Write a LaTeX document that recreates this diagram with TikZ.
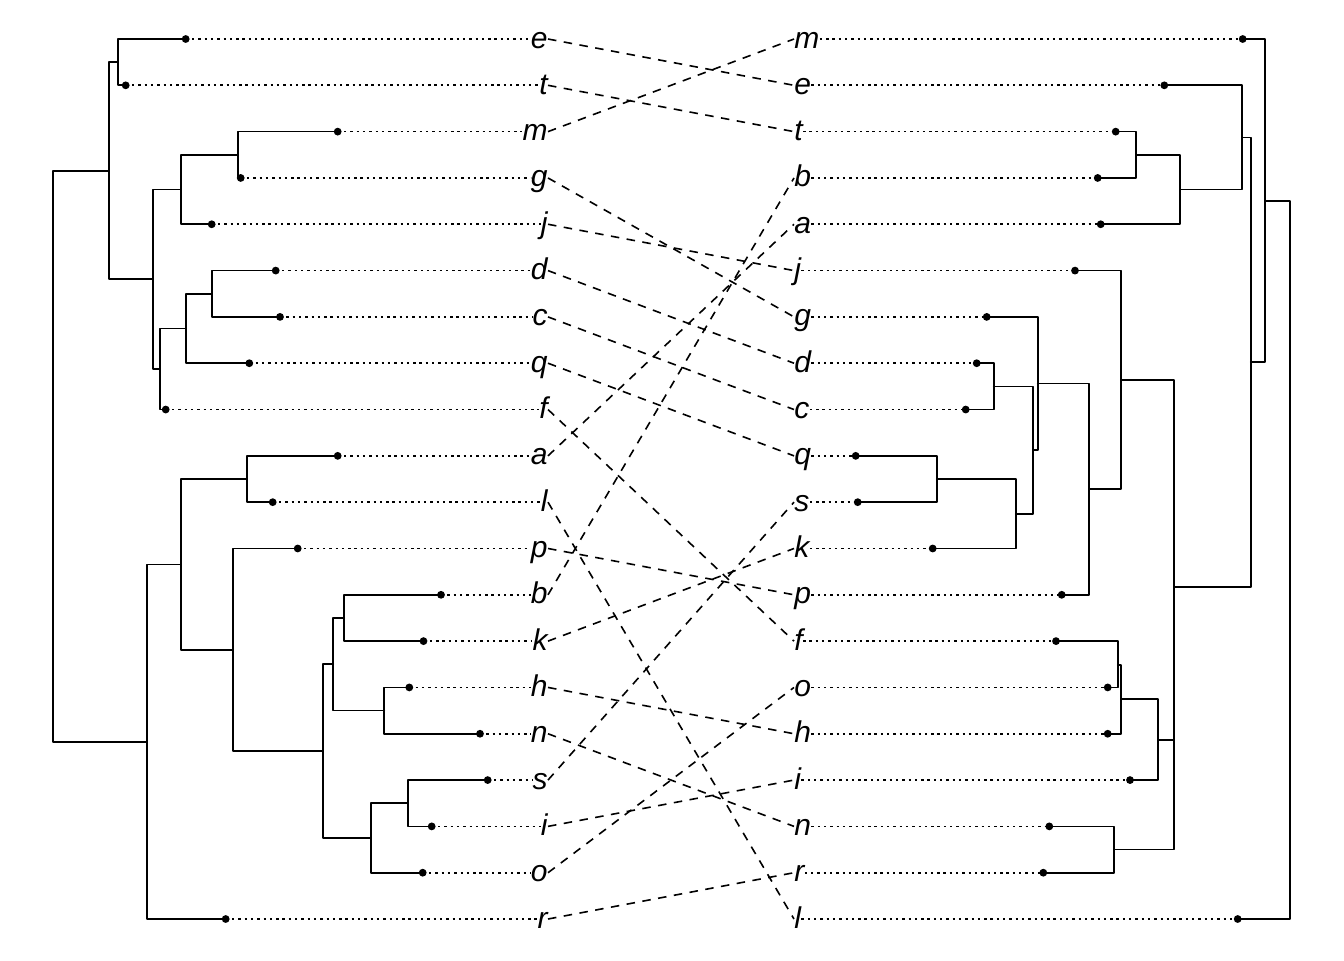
\documentclass[tikz,border=0pt]{standalone}
\usepackage{fontspec}
\setmainfont{Liberation Sans}
\begin{document}
\begin{tikzpicture}[x=0.5pt,y=-0.5pt,
  branch/.style={line width=0.85pt, line cap=round, line join=round},
  leafdot/.style={circle, fill=black, inner sep=0pt, minimum size=3.9pt},
  guide/.style={line width=0.85pt, dash pattern=on 1.2pt off 1.95pt},
  link/.style={line width=0.8pt, dash pattern=on 4.25pt off 3.75pt},
  lab/.style={font=\fontsize{15}{18}\selectfont\itshape, inner sep=0pt}]
\useasboundingbox (0,0) rectangle (1344,960);

% ---- left dendrogram: leaves, guide lines and labels ----
\foreach \n/\x/\r in {e/185.7/0, t/125.7/1, m/337.7/2, g/240.7/3, j/211.7/4,
  d/275.7/5, c/280/6, q/249.3/7, f/165.7/8, a/337.7/9, l/272.7/10,
  p/297.7/11, b/441/12, k/423.5/13, h/409.3/14, n/480/15, s/487.7/16,
  i/431.7/17, o/422.7/18, r/225.7/19}{
  \node[lab, anchor=base east] (Lt-\n) at (548, {48+46.316*\r}) {\n};
  \draw[guide] (\x, {39+46.316*\r}) -- ([yshift=4.5pt]Lt-\n.base west);
  \node[leafdot] (Ld-\n) at (\x, {39+46.316*\r}) {};
}

% ---- right dendrogram: leaves, guide lines and labels ----
\foreach \n/\x/\r in {m/1242.7/0, e/1164.3/1, t/1115.7/2, b/1097.7/3, a/1100.7/4,
  j/1075/5, g/986.7/6, d/976.7/7, c/965.7/8, q/855.7/9, s/857.7/10,
  k/932.7/11, p/1061.7/12, f/1056/13, o/1107.7/14, h/1107.7/15,
  i/1130/16, n/1049.3/17, r/1043.3/18, l/1237.7/19}{
  \node[lab, anchor=base west] (Rt-\n) at (794, {48+46.316*\r}) {\n};
  \draw[guide] ([yshift=4.5pt]Rt-\n.base east) -- (\x, {39+46.316*\r});
  \node[leafdot] (Rd-\n) at (\x, {39+46.316*\r}) {};
}

% ---- left internal nodes ----
\coordinate (L-et)   at (117.7, 62.2);
\coordinate (L-mg)   at (238,   154.8);
\coordinate (L-mgj)  at (180.7, 189.5);
\coordinate (L-dc)   at (211.7, 293.8);
\coordinate (L-dcq)  at (185.7, 328.5);
\coordinate (L-dcqf) at (160,   369);
\coordinate (L-up)   at (152.7, 279.3);
\coordinate (L-top)  at (109,   170.7);
\coordinate (L-al)   at (246.7, 479);
\coordinate (L-bk)   at (344.3, 618);
\coordinate (L-hn)   at (384.3, 710.6);
\coordinate (L-bkhn) at (333.3, 664.3);
\coordinate (L-si)   at (407.7, 803.2);
\coordinate (L-sio)  at (370.7, 838);
\coordinate (L-low)  at (322.7, 751.1);
\coordinate (L-plow) at (232.7, 649.8);
\coordinate (L-alp)  at (180.7, 564.4);
\coordinate (L-bot)  at (146.7, 741.7);
\coordinate (L-root) at (52.7,  456.2);

\draw[branch] (Ld-e.center) -| (L-et) |- (Ld-t.center);
\draw[branch] (Ld-m.center) -| (L-mg) |- (Ld-g.center);
\draw[branch] (L-mg) -| (L-mgj) |- (Ld-j.center);
\draw[branch] (Ld-d.center) -| (L-dc) |- (Ld-c.center);
\draw[branch] (L-dc) -| (L-dcq) |- (Ld-q.center);
\draw[branch] (L-dcq) -| (L-dcqf) |- (Ld-f.center);
\draw[branch] (L-mgj) -| (L-up) |- (L-dcqf);
\draw[branch] (L-et) -| (L-top) |- (L-up);
\draw[branch] (Ld-a.center) -| (L-al) |- (Ld-l.center);
\draw[branch] (Ld-b.center) -| (L-bk) |- (Ld-k.center);
\draw[branch] (Ld-h.center) -| (L-hn) |- (Ld-n.center);
\draw[branch] (L-bk) -| (L-bkhn) |- (L-hn);
\draw[branch] (Ld-s.center) -| (L-si) |- (Ld-i.center);
\draw[branch] (L-si) -| (L-sio) |- (Ld-o.center);
\draw[branch] (L-bkhn) -| (L-low) |- (L-sio);
\draw[branch] (Ld-p.center) -| (L-plow) |- (L-low);
\draw[branch] (L-al) -| (L-alp) |- (L-plow);
\draw[branch] (L-alp) -| (L-bot) |- (Ld-r.center);
\draw[branch] (L-top) -| (L-root) |- (L-bot);

% ---- right internal nodes ----
\coordinate (R-tb)     at (1136,   154.8);
\coordinate (R-tba)    at (1180,   189.5);
\coordinate (R-etba)   at (1242,   137.4);
\coordinate (R-dc)     at (993.7,  386.4);
\coordinate (R-qs)     at (936.7,  479);
\coordinate (R-qsk)    at (1015.7, 513.8);
\coordinate (R-dcqsk)  at (1033.3, 450.1);
\coordinate (R-gdc)    at (1037.7, 383.5);
\coordinate (R-gp)     at (1089.3, 489.2);
\coordinate (R-jgp)    at (1121,   379.9);
\coordinate (R-fo)     at (1117.7, 664.9);
\coordinate (R-foh)    at (1121,   699.3);
\coordinate (R-fohi)   at (1158.3, 739.7);
\coordinate (R-nr)     at (1114,   849.6);
\coordinate (R-low)    at (1174,   794.6);
\coordinate (R-jlow)   at (1174,   587.3);
\coordinate (R-mid)    at (1250.7, 362.3);
\coordinate (R-top)    at (1265,   200.7);
\coordinate (R-root)   at (1290,   559.9);

\draw[branch] (Rd-t.center) -| (R-tb) |- (Rd-b.center);
\draw[branch] (R-tb) -| (R-tba) |- (Rd-a.center);
\draw[branch] (Rd-e.center) -| (R-etba) |- (R-tba);
\draw[branch] (Rd-d.center) -| (R-dc) |- (Rd-c.center);
\draw[branch] (Rd-q.center) -| (R-qs) |- (Rd-s.center);
\draw[branch] (R-qs) -| (R-qsk) |- (Rd-k.center);
\draw[branch] (R-dc) -| (R-dcqsk) |- (R-qsk);
\draw[branch] (Rd-g.center) -| (R-gdc) |- (R-dcqsk);
\draw[branch] (R-gdc) -| (R-gp) |- (Rd-p.center);
\draw[branch] (Rd-j.center) -| (R-jgp) |- (R-gp);
\draw[branch] (Rd-f.center) -| (R-fo) |- (Rd-o.center);
\draw[branch] (R-fo) -| (R-foh) |- (Rd-h.center);
\draw[branch] (R-foh) -| (R-fohi) |- (Rd-i.center);
\draw[branch] (Rd-n.center) -| (R-nr) |- (Rd-r.center);
\draw[branch] (R-fohi) -| (R-low) |- (R-nr);
\draw[branch] (R-jgp) -| (R-jlow) |- (R-low);
\draw[branch] (R-etba) -| (R-mid) |- (R-jlow);
\draw[branch] (Rd-m.center) -| (R-top) |- (R-mid);
\draw[branch] (R-top) -| (R-root) |- (Rd-l.center);

% ---- connectors between matching labels ----
\foreach \n in {a,b,c,d,e,f,g,h,i,j,k,l,m,n,o,p,q,r,s,t}{
  \draw[link] ([yshift=4.5pt]Lt-\n.base east) -- ([yshift=4.5pt]Rt-\n.base west);
}
\end{tikzpicture}
\end{document}
